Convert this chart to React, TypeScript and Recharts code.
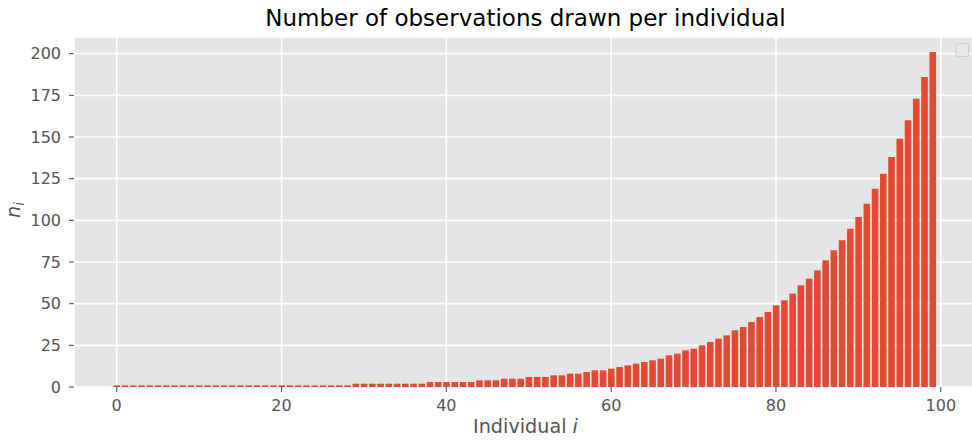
import { BarChart, Bar, XAxis, YAxis, CartesianGrid, Label } from 'recharts'

// observations drawn for each individual, i = 0..99
const observationCounts = [
  1, 1, 1, 1, 1, 1, 1, 1, 1, 1,
  1, 1, 1, 1, 1, 1, 1, 1, 1, 1,
  1, 1, 1, 1, 1, 1, 1, 1, 1, 2,
  2, 2, 2, 2, 2, 2, 2, 2, 3, 3,
  3, 3, 3, 3, 4, 4, 4, 5, 5, 5,
  6, 6, 6, 7, 7, 8, 8, 9, 10, 10,
  11, 12, 13, 14, 15, 16, 17, 19, 20, 22,
  23, 25, 27, 29, 31, 34, 36, 39, 42, 45,
  49, 52, 56, 61, 65, 70, 76, 82, 88, 95,
  102, 110, 119, 128, 138, 149, 160, 173, 186, 201,
]

const xTicks = [0, 20, 40, 60, 80, 100]
const yTicks = [0, 25, 50, 75, 100, 125, 150, 175, 200]

const rows = observationCounts.map((n, i) => ({ i, n }))

const FONT = '"DejaVu Sans", sans-serif'
const TICK_COLOR = '#555555'

function XTitle(props: any) {
  const { x, y, width } = props.viewBox
  return (
    <text x={x + width / 2} y={y + 46} textAnchor="middle" fontSize={19.2} fill={TICK_COLOR} fontFamily={FONT}>
      Individual <tspan fontStyle="italic">i</tspan>
    </text>
  )
}

function YTitle(props: any) {
  const { y, height } = props.viewBox
  const cx = 20
  const cy = y + height / 2 - 2
  return (
    <text x={cx} y={cy} transform={`rotate(-90, ${cx}, ${cy})`} textAnchor="middle" fontSize={19.2} fill={TICK_COLOR} fontFamily={FONT}>
      <tspan fontStyle="italic">n</tspan>
      <tspan fontStyle="italic" fontSize={13.4} dy={3.5}>i</tspan>
    </text>
  )
}

export default function App() {
  return (
    <div style={{ position: 'absolute', left: 0, top: 0, width: 972, height: 441, overflow: 'hidden', background: '#fff', fontFamily: FONT }}>
      <BarChart width={980} height={441} data={rows} margin={{ top: 37, right: 3, left: 0, bottom: 0 }}>
        <CartesianGrid fill="#E5E5E5" fillOpacity={1} stroke="#FFFFFF" strokeWidth={1.6} />
        <XAxis
          dataKey="i"
          type="number"
          domain={[-5.18, 104.39]}
          ticks={xTicks}
          allowDataOverflow
          height={54}
          axisLine={false}
          tickSize={5}
          tickMargin={8}
          tickLine={{ stroke: TICK_COLOR, strokeWidth: 1.1 }}
          tick={{ fill: TICK_COLOR, fontSize: 16, fontFamily: FONT }}
        >
          <Label content={XTitle} />
        </XAxis>
        <YAxis
          type="number"
          domain={[0, 210]}
          ticks={yTicks}
          allowDataOverflow
          width={74}
          axisLine={false}
          tickSize={5}
          tickMargin={8}
          tickLine={{ stroke: TICK_COLOR, strokeWidth: 1.1 }}
          tick={{ fill: TICK_COLOR, fontSize: 16, fontFamily: FONT }}
        >
          <Label content={YTitle} />
        </YAxis>
        <Bar dataKey="n" fill="#E24A33" barSize={6.6} isAnimationActive={false} />
      </BarChart>
      <svg width={972} height={441} style={{ position: 'absolute', left: 0, top: 0, pointerEvents: 'none' }}>
        <text x={525.5} y={26} textAnchor="middle" fontSize={23} fill="#000" fontFamily={FONT}>
          Number of observations drawn per individual
        </text>
        {/* empty legend frame */}
        <rect x={956} y={43.5} width={12.5} height={13} rx={2} fill="#E8E8E8" stroke="#D0D0D0" strokeWidth={1} />
      </svg>
    </div>
  )
}
